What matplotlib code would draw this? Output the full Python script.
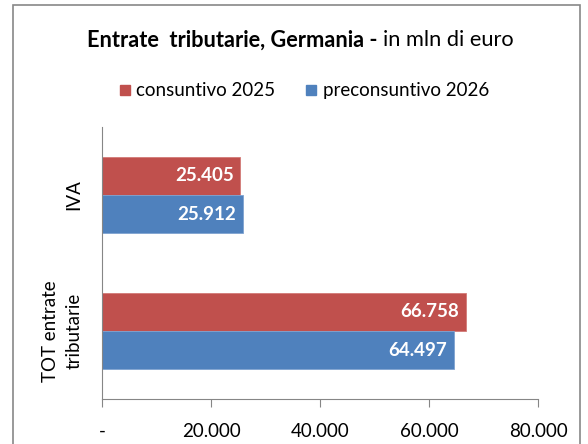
import matplotlib
matplotlib.use("Agg")
import matplotlib.pyplot as plt
from matplotlib.patches import Rectangle
import numpy as np

plt.rcParams['font.family'] = ['Lato', 'DejaVu Sans']

categories = ["IVA", "TOT entrate\ntributarie"]
series_names = ["consuntivo 2025", "preconsuntivo 2026"]
consuntivo_2025 = [25405, 66758]
preconsuntivo_2026 = [25912, 64497]
xticks = [0, 20000, 40000, 60000, 80000]
xtick_labels = ["-", "20.000", "40.000", "60.000", "80.000"]

red = "#C0504D"
blue = "#4F81BD"

W, H = 588, 444
fig = plt.figure(figsize=(W/100, H/100), dpi=100)
ax = fig.add_axes([102/W, 1-399/H, (538-102)/W, (399-127)/H])

y = np.arange(len(categories))
h = 0.283
b1 = ax.barh(y - h/2, consuntivo_2025, height=h, color=red, edgecolor="#D27A77", linewidth=0.6)
b2 = ax.barh(y + h/2, preconsuntivo_2026, height=h, color=blue, edgecolor="#7FA3D1", linewidth=0.6)

def fmt(v):
    return f"{v:,}".replace(",", ".")

for bars, vals in ((b1, consuntivo_2025), (b2, preconsuntivo_2026)):
    for bar, v in zip(bars, vals):
        ax.annotate(fmt(v), xy=(v, bar.get_y() + bar.get_height()/2),
                    xytext=(-5, 0), textcoords="offset points",
                    ha="right", va="center", color="white",
                    fontsize=13.5, fontweight="bold")

ax.set_xlim(0, 80000)
ax.set_ylim(1.5, -0.5)
ax.set_xticks(xticks)
ax.set_xticklabels(xtick_labels, fontsize=13.5)
ax.set_yticks(y)
ax.set_yticklabels(categories, rotation=90, va="center", ha="right", fontsize=13.5,
                   multialignment="center", linespacing=1.45)
ax.tick_params(axis="y", length=0, pad=14)
ax.tick_params(axis="x", length=6, color="#868686", pad=11)
for s in ("top", "right"):
    ax.spines[s].set_visible(False)
for s in ("left", "bottom"):
    ax.spines[s].set_color("#868686")

# title: bold part + regular part, centered together
fig.canvas.draw()
r = fig.canvas.get_renderer()
t1 = fig.text(0, 1-40/H, "Entrate  tributarie, Germania - ", ha="left", va="center",
              fontsize=15.7, fontweight="bold")
t2 = fig.text(0, 1-40/H, "in mln di euro", ha="left", va="center", fontsize=15.7)
w1 = t1.get_window_extent(r).width
w2 = t2.get_window_extent(r).width
x0 = 300 - (w1 + w2) / 2
t1.set_x(x0 / W)
t2.set_x((x0 + w1) / W)

# legend
fig.patches.append(Rectangle((120/W, 1-95/H), 10/W, 10/H, transform=fig.transFigure, color=red))
fig.text(136/W, 1-90/H, series_names[0], ha="left", va="center", fontsize=13.5)
fig.patches.append(Rectangle((306/W, 1-95/H), 10/W, 10/H, transform=fig.transFigure, color=blue))
fig.text(323/W, 1-90/H, series_names[1], ha="left", va="center", fontsize=13.5)

fig.patches.append(Rectangle((13/W, -0.1), (580-13)/W, 1.1 - 5/H, transform=fig.transFigure,
                             fill=False, edgecolor="#888888", linewidth=1.2))

fig.savefig("out.png", dpi=100)
